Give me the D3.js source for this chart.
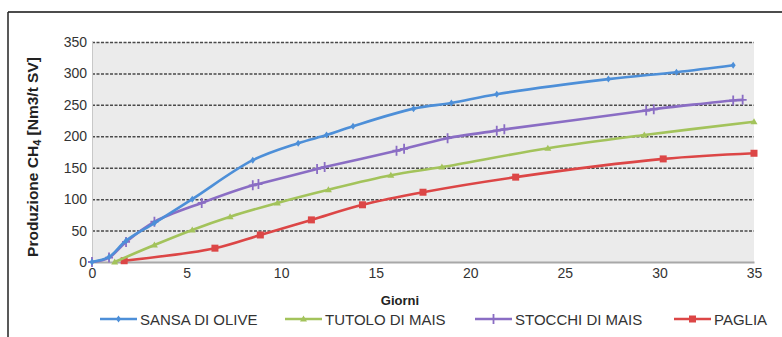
<!DOCTYPE html>
<html>
<head>
<meta charset="utf-8">
<script src="https://cdn.jsdelivr.net/npm/d3@7"></script>
<style>
  body { margin: 0; background: #fff; }
  text { font-family: "Liberation Sans", Arial, sans-serif; }
</style>
</head>
<body>
<svg id="chart" width="782" height="337"></svg>
<script>
// ---- data ----
var SERIES_NAMES = ["SANSA DI OLIVE", "TUTOLO DI MAIS", "STOCCHI DI MAIS", "PAGLIA"];
var SANSA = [[0,0],[0.9,8],[1.8,34],[3.3,62],[5.3,100],[8.5,162],[10.9,189],[12.4,202],[13.8,216],[17,244],[19,253],[21.4,267],[27.3,291],[30.9,302],[33.9,313]];
var TUTOLO = [[1.2,0],[3.3,27],[5.3,51],[7.3,72],[9.8,94],[12.5,115],[15.8,138],[18.5,151],[24.1,181],[29.2,202],[35,223]];
var STOCCHI = [[0,0],[0.9,7],[1.8,32],[3.3,64],[5.8,94],[8.5,122],[8.8,124],[11.9,148],[12.3,151],[16.1,177],[16.5,180],[18.8,197],[21.4,209],[21.8,211],[29.3,241],[29.7,243],[33.9,257],[34.4,258]];
var PAGLIA = [[1.7,2],[6.5,22],[8.9,43],[11.6,67],[14.3,91],[17.5,111],[22.4,135],[30.2,164],[35,173]];
var X_TICKS = [0,5,10,15,20,25,30,35];
var Y_TICKS = [0,50,100,150,200,250,300,350];

var COLORS = ["#4d8fd8","#a3c35b","#8a6dc4","#dc4646"];
var MARKERS = ["diamond","triangle","cross","square"];

var svg = d3.select("#chart");
var margin = {left:92, right:28, top:42, bottom:75};
var width = 782 - margin.left - margin.right;
var height = 337 - margin.top - margin.bottom;

var x = d3.scaleLinear().domain([0,35]).range([margin.left, margin.left+width]);
var y = d3.scaleLinear().domain([0,350]).range([margin.top+height, margin.top]);

// frame
svg.append("line").attr("x1",8).attr("y1",12).attr("x2",782).attr("y2",12).attr("stroke","#111").attr("stroke-width",1.5);
svg.append("line").attr("x1",8).attr("y1",12).attr("x2",8).attr("y2",337).attr("stroke","#222").attr("stroke-width",1.5);

// plot background
svg.append("rect")
  .attr("x",x(0)).attr("y",y(350))
  .attr("width",x(35)-x(0)).attr("height",y(0)-y(350))
  .attr("fill","#ebebeb");

// grid
var gGrid = svg.append("g").attr("id","grid");
gGrid.selectAll("line").data(Y_TICKS.filter(function(d){return d>0;})).enter().append("line")
  .attr("x1",x(0)).attr("x2",x(35))
  .attr("y1",function(d){return y(d)+0.5;}).attr("y2",function(d){return y(d)+0.5;})
  .attr("stroke","#4a4a4a").attr("stroke-width",1.5).attr("stroke-dasharray","3,1.5");
svg.append("line").attr("x1",x(0)+0.5).attr("x2",x(0)+0.5).attr("y1",y(350)).attr("y2",y(0))
  .attr("stroke","#c8c8c8").attr("stroke-width",1);

// axes
var yAxis = d3.axisLeft(y).tickValues(Y_TICKS).tickSize(0).tickPadding(5);
var gy = svg.append("g").attr("transform","translate("+x(0)+",0)").call(yAxis);
gy.select(".domain").remove();
gy.selectAll("text").attr("font-size","14px").attr("fill","#333").attr("font-family","Liberation Sans, Arial, sans-serif");

var xAxis = d3.axisBottom(x).tickValues(X_TICKS).tickSize(0).tickPadding(6);
var gx = svg.append("g").attr("transform","translate(0,"+y(0)+")").call(xAxis);
gx.select(".domain").attr("stroke","#a8a8a8").attr("stroke-width",2);
gx.selectAll("text").attr("font-size","14px").attr("fill","#333").attr("font-family","Liberation Sans, Arial, sans-serif");

// axis titles
svg.append("text").attr("x",400).attr("y",305).attr("text-anchor","middle")
  .attr("font-size","13px").attr("font-weight","bold").attr("fill","#222").text("Giorni");

var yt = svg.append("text").attr("transform","translate(38,"+((y(0)+y(350))/2+5)+") rotate(-90)")
  .attr("text-anchor","middle").attr("font-size","15.5px").attr("font-weight","bold").attr("fill","#222");
yt.append("tspan").text("Produzione CH");
yt.append("tspan").attr("font-size","11px").attr("dy",3).text("4");
yt.append("tspan").attr("dy",-3).text("  [Nm3/t SV]");

// markers
function drawMarker(g, type, cx, cy, color){
  if (type=="diamond"){
    g.append("path").attr("d","M"+cx+","+(cy-3.5)+"L"+(cx+2.5)+","+cy+"L"+cx+","+(cy+3.5)+"L"+(cx-2.5)+","+cy+"Z").attr("fill",color);
  } else if (type=="triangle"){
    g.append("path").attr("d","M"+cx+","+(cy-3.5)+"L"+(cx+3.5)+","+(cy+2.5)+"L"+(cx-3.5)+","+(cy+2.5)+"Z").attr("fill",color);
  } else if (type=="cross"){
    g.append("path").attr("d","M"+cx+","+(cy-5)+"V"+(cy+5)+"M"+(cx-4)+","+cy+"H"+(cx+4)).attr("stroke",color).attr("stroke-width",1.8);
  } else {
    g.append("rect").attr("x",cx-3.5).attr("y",cy-3.5).attr("width",7).attr("height",7).attr("fill",color);
  }
}

var line = d3.line().x(function(d){return x(d[0]);}).y(function(d){return y(d[1]);}).curve(d3.curveCatmullRom.alpha(0.5));
var allSeries = [SANSA, TUTOLO, STOCCHI, PAGLIA];
var drawOrder = [3,1,2,0];
drawOrder.forEach(function(i){
  var g = svg.append("g").attr("class","series");
  g.append("path").datum(allSeries[i]).attr("d",line)
    .attr("fill","none").attr("stroke",COLORS[i]).attr("stroke-width",2.6).attr("stroke-linejoin","round");
  allSeries[i].forEach(function(d){ drawMarker(g, MARKERS[i], x(d[0]), y(d[1]), COLORS[i]); });
});

// legend
var LEGEND_X = [100,285,475,674];
var gLeg = svg.append("g").attr("id","legend");
SERIES_NAMES.forEach(function(name,i){
  var lx = LEGEND_X[i], ly = 319;
  gLeg.append("line").attr("x1",lx).attr("x2",lx+37).attr("y1",ly).attr("y2",ly)
    .attr("stroke",COLORS[i]).attr("stroke-width",2.6);
  drawMarker(gLeg, MARKERS[i], lx+18.5, ly, COLORS[i]);
  gLeg.append("text").attr("x",lx+40).attr("y",ly+5.5).attr("font-size","15px").attr("fill","#333").text(name);
});
</script>
</body>
</html>
